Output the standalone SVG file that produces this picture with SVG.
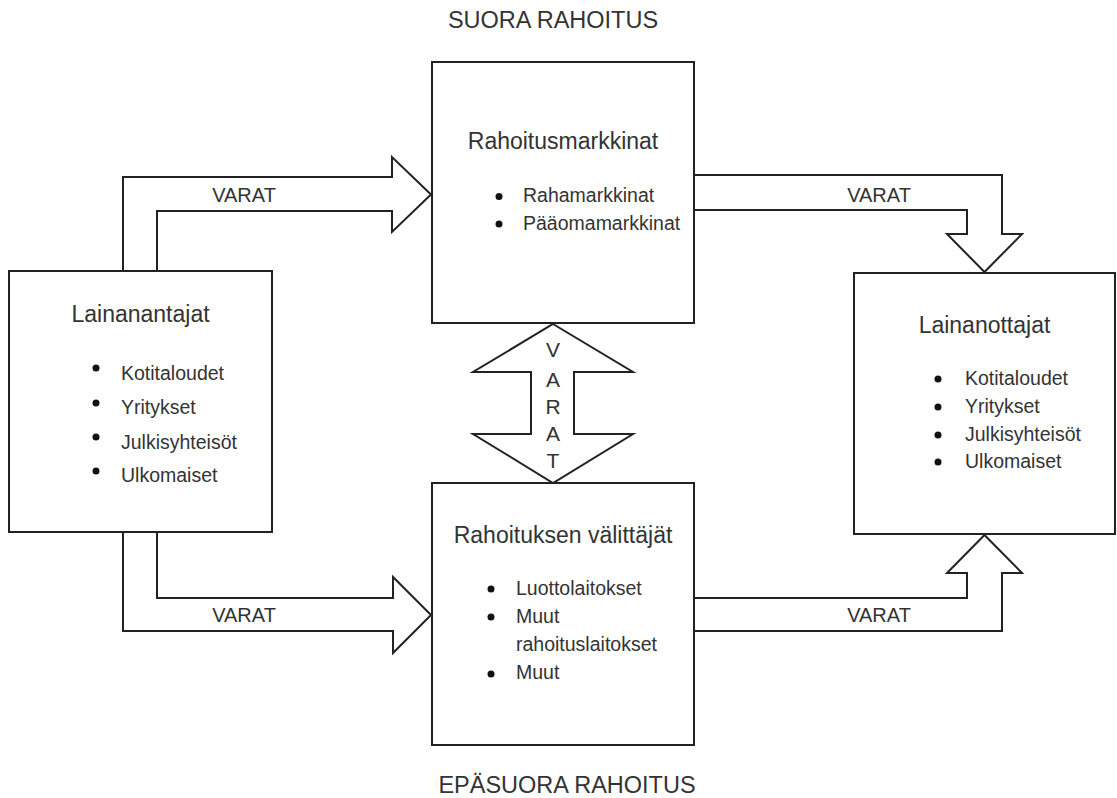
<svg xmlns="http://www.w3.org/2000/svg" width="1117" height="798" viewBox="0 0 1117 798">
<style>
.box{fill:#fff;stroke:#222;stroke-width:2}
.arr{fill:#fff;stroke:#222;stroke-width:2;stroke-linejoin:miter}
text{font-family:"Liberation Sans",Arial,sans-serif;fill:#333}
.hd{font-size:23.5px;text-anchor:middle}
.ti{font-size:23px;text-anchor:middle}
.it{font-size:19.5px}
.lb{font-size:20px;text-anchor:middle}
.vl{font-size:21px;text-anchor:middle}
.dot{fill:#111}
</style>
<rect width="1117" height="798" fill="#fff"/>
<text class="hd" x="553" y="28">SUORA RAHOITUS</text>
<text class="hd" x="567" y="793">EPÄSUORA RAHOITUS</text>
<g id="connectors">
<path class="arr" d="M123,271 V177 H392 V157 L431,194.5 L392,232 V211 H157 V271"/>
<path class="arr" d="M694,175 H1002 V234 H1022 L984.5,272 L947,234 H967 V210 H694 Z"/>
<path class="arr" d="M123,532 V631 H393 V653 L431,615 L393,577 V598 H157 V532"/>
<path class="arr" d="M694,631 H1002 V573 H1022 L984.5,535 L947,573 H967 V598 H694 Z"/>
<path class="arr" d="M553,324 L633,372 H574 V434 H633 L553,483 L473,434 H531 V372 H473 Z"/>
<text class="lb" x="244" y="202">VARAT</text>
<text class="lb" x="879" y="202">VARAT</text>
<text class="lb" x="244" y="622">VARAT</text>
<text class="lb" x="879" y="622">VARAT</text>
<text class="vl" x="553" y="357">V</text>
<text class="vl" x="553" y="387">A</text>
<text class="vl" x="553" y="414">R</text>
<text class="vl" x="553" y="441">A</text>
<text class="vl" x="553" y="468">T</text>
</g>
<g id="rahoitusmarkkinat">
<rect class="box" x="432" y="62" width="262" height="261"/>
<text class="ti" x="563" y="149">Rahoitusmarkkinat</text>
<circle class="dot" cx="499" cy="196.5" r="3.5"/>
<circle class="dot" cx="499" cy="224" r="3.5"/>
<text class="it" x="523" y="202">Rahamarkkinat</text>
<text class="it" x="523" y="230">Pääomamarkkinat</text>
</g>
<g id="lainanantajat">
<rect class="box" x="9" y="271" width="263" height="261"/>
<text class="ti" x="140.5" y="322">Lainanantajat</text>
<circle class="dot" cx="96" cy="368" r="3.5"/>
<circle class="dot" cx="96" cy="403" r="3.5"/>
<circle class="dot" cx="96" cy="437" r="3.5"/>
<circle class="dot" cx="96" cy="471" r="3.5"/>
<text class="it" x="121" y="380">Kotitaloudet</text>
<text class="it" x="121" y="414">Yritykset</text>
<text class="it" x="121" y="449">Julkisyhteisöt</text>
<text class="it" x="121" y="482">Ulkomaiset</text>
</g>
<g id="lainanottajat">
<rect class="box" x="854" y="273" width="261" height="261"/>
<text class="ti" x="984.5" y="333">Lainanottajat</text>
<circle class="dot" cx="938" cy="379" r="3.5"/>
<circle class="dot" cx="938" cy="407" r="3.5"/>
<circle class="dot" cx="938" cy="435" r="3.5"/>
<circle class="dot" cx="938" cy="462" r="3.5"/>
<text class="it" x="965" y="385">Kotitaloudet</text>
<text class="it" x="965" y="413">Yritykset</text>
<text class="it" x="965" y="441">Julkisyhteisöt</text>
<text class="it" x="965" y="468">Ulkomaiset</text>
</g>
<g id="rahoituksen-valittajat">
<rect class="box" x="432" y="483" width="262" height="262"/>
<text class="ti" x="563" y="543">Rahoituksen välittäjät</text>
<circle class="dot" cx="491" cy="589" r="3.5"/>
<circle class="dot" cx="491" cy="617" r="3.5"/>
<circle class="dot" cx="491" cy="674" r="3.5"/>
<text class="it" x="516" y="595">Luottolaitokset</text>
<text class="it" x="516" y="623">Muut</text>
<text class="it" x="516" y="651">rahoituslaitokset</text>
<text class="it" x="516" y="679">Muut</text>
</g>
</svg>
